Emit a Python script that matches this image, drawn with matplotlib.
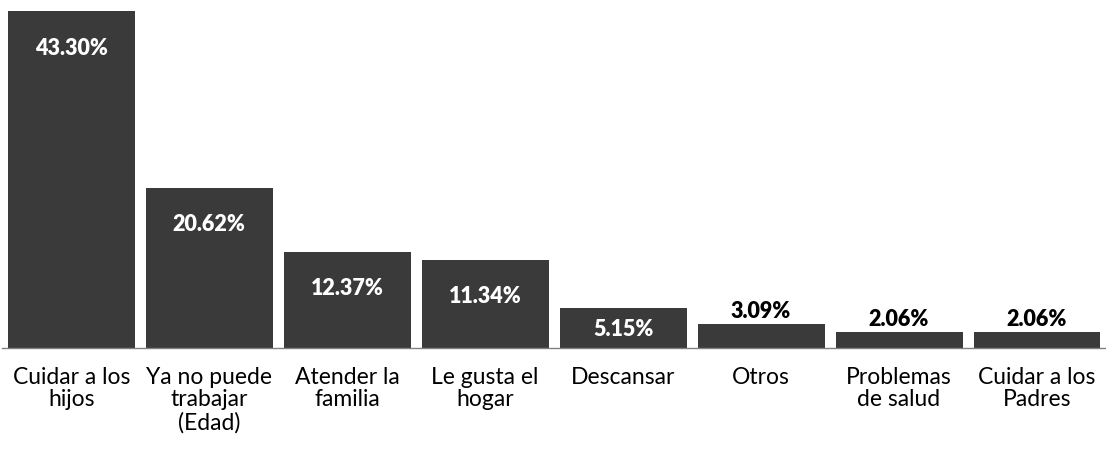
import matplotlib
matplotlib.use('Agg')
import matplotlib.pyplot as plt
import numpy as np

# data
categorias = ['Cuidar a los\nhijos', 'Ya no puede\ntrabajar\n(Edad)', 'Atender la\nfamilia',
              'Le gusta el\nhogar', 'Descansar', 'Otros', 'Problemas\nde salud',
              'Cuidar a los\nPadres']
porcentajes = [43.30, 20.62, 12.37, 11.34, 5.15, 3.09, 2.06, 2.06]
etiquetas = ['43.30%', '20.62%', '12.37%', '11.34%', '5.15%', '3.09%', '2.06%', '2.06%']

plt.rcParams['font.family'] = ['Lato', 'DejaVu Sans']

fig = plt.figure(figsize=(11.06, 4.56), dpi=100)
ax = fig.add_axes([0.002, 0.2346, 0.998, 0.7654])

x = np.arange(len(porcentajes))
bars = ax.bar(x, porcentajes, width=0.92, color='#3a3a3a', edgecolor='none', zorder=2)

ax.set_xlim(-0.5, 7.5)
ax.set_ylim(0, 44.9)

# inside (white) labels for taller bars, above (black) labels for the small ones
for i, (v, t) in enumerate(zip(porcentajes, etiquetas)):
    if v > 5:
        hpx = v * 7.78
        off = -min(36, hpx / 2)
        ax.annotate(t, (i, v), xytext=(0, off), textcoords='offset pixels',
                    ha='center', va='center', color='white', fontsize=15.5, fontweight='heavy')
    else:
        ax.annotate(t, (i, v), xytext=(0, 3), textcoords='offset pixels',
                    ha='center', va='bottom', color='black', fontsize=15.5, fontweight='heavy')

ax.set_xticks(x)
ax.set_xticklabels(categorias, fontsize=16.5, linespacing=1.08)
ax.tick_params(axis='x', length=0, pad=13)
ax.set_yticks([])
for s in ['top', 'left', 'right']:
    ax.spines[s].set_visible(False)
ax.spines['bottom'].set_color('#808080')
ax.spines['bottom'].set_linewidth(1.0)

fig.savefig('out.png', dpi=100)
